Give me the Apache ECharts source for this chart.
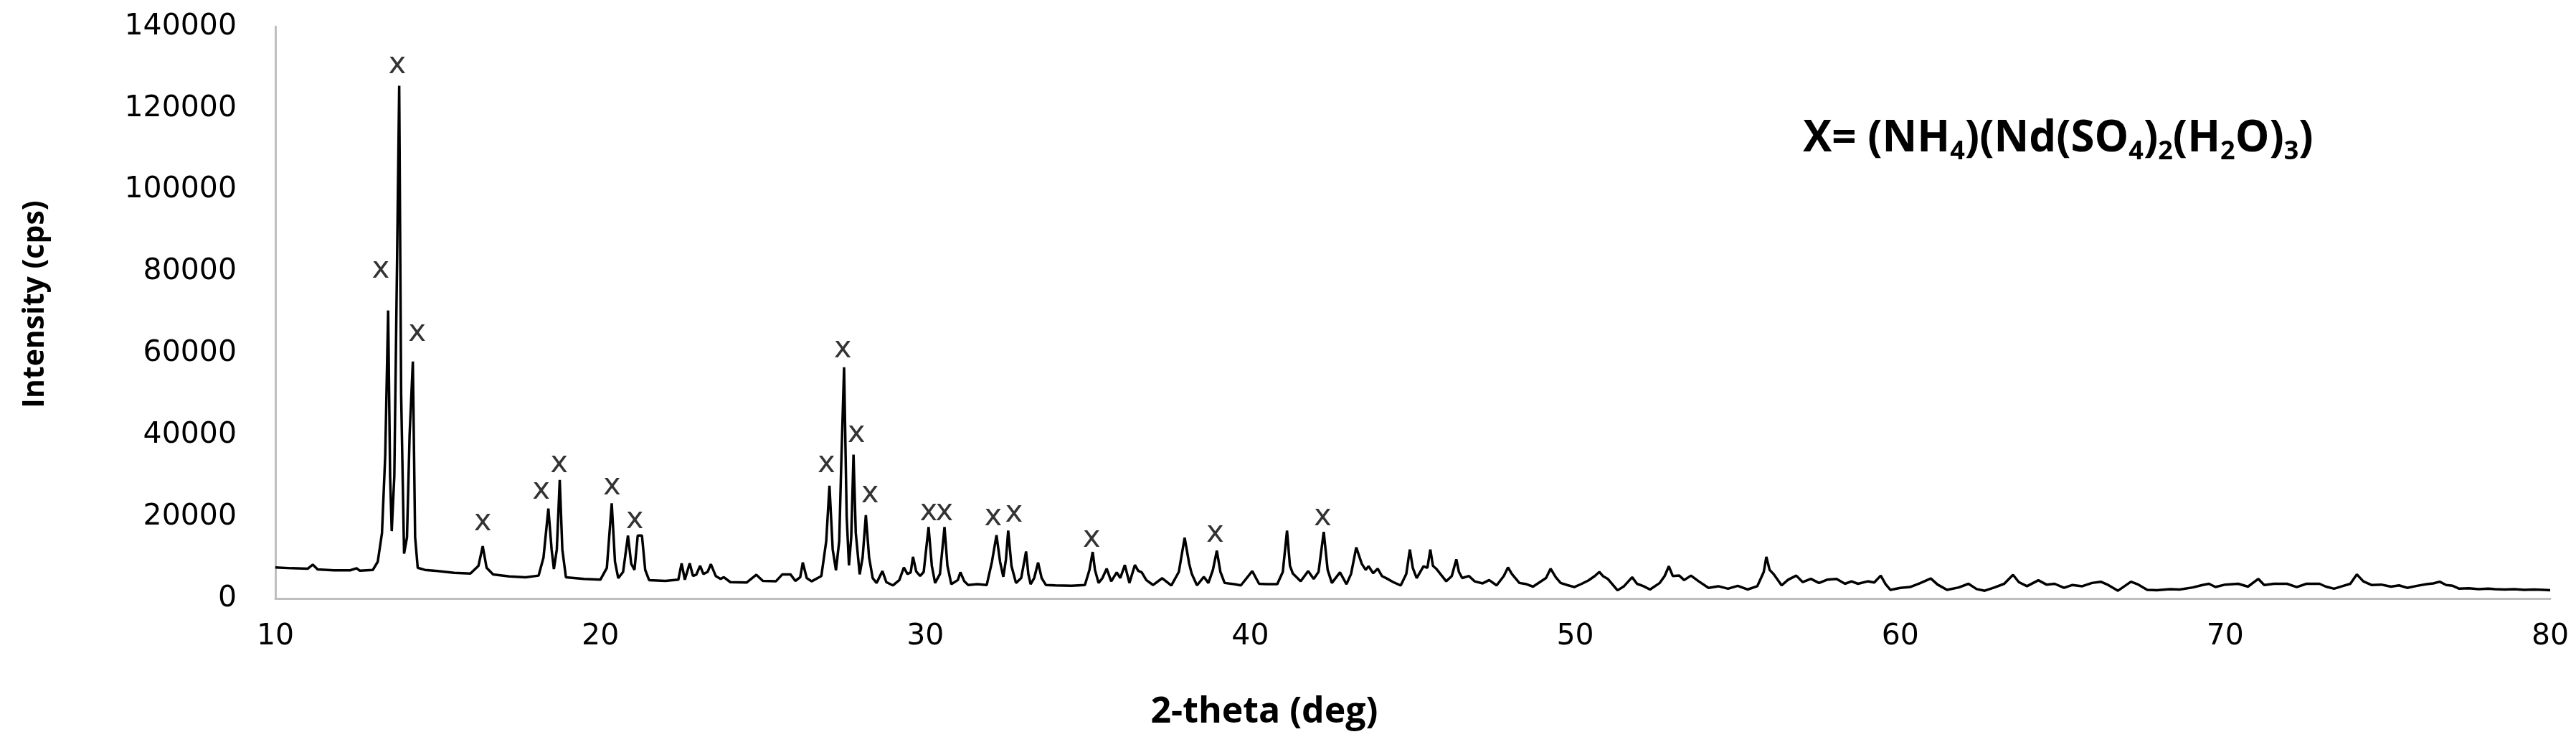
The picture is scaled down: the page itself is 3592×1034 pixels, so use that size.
<!DOCTYPE html>
<html>
<head>
<meta charset="utf-8">
<script src="https://cdn.jsdelivr.net/npm/echarts@6/dist/echarts.min.js"></script>
<style>
html,body{margin:0;padding:0;background:#fff;}
#chart{width:3592px;height:1034px;}
</style>
</head>
<body>
<div id="chart"></div>
<script>
// 2-theta (deg) values of the diffraction trace
const theta = [
10.0,10.5,11.0,11.15,11.3,11.8,12.3,12.5,12.6,13.0,13.15,13.28,13.38,13.47,13.53,13.58,13.66,13.74,13.81,13.87,13.96,14.05,14.13,14.23,14.3,14.38,14.6,15.0,15.5,16.0,16.25,16.38,16.5,16.7,17.2,17.7,18.1,18.25,18.4,18.5,18.57,18.66,18.75,18.83,18.94,19.5,20.0,20.2,20.35,20.45,20.55,20.7,20.85,20.95,21.05,21.15,21.28,21.38,21.5,22.0,22.4,22.5,22.6,22.75,22.85,22.95,23.07,23.17,23.3,23.4,23.55,23.7,23.8,24.0,24.5,24.8,25.0,25.4,25.6,25.85,26.0,26.15,26.23,26.35,26.5,26.8,26.95,27.05,27.15,27.25,27.35,27.42,27.5,27.58,27.65,27.72,27.79,27.86,27.98,28.07,28.17,28.27,28.38,28.5,28.68,28.8,29.0,29.2,29.34,29.45,29.55,29.62,29.72,29.84,29.95,30.1,30.2,30.3,30.45,30.59,30.68,30.8,31.0,31.08,31.2,31.32,31.6,31.89,32.05,32.19,32.3,32.4,32.48,32.55,32.65,32.79,32.95,33.1,33.17,33.24,33.35,33.47,33.58,33.71,34.0,34.5,34.91,35.05,35.15,35.22,35.33,35.45,35.58,35.72,35.89,36.0,36.14,36.28,36.45,36.55,36.66,36.8,37.01,37.29,37.57,37.8,37.98,38.12,38.2,38.36,38.57,38.71,38.85,38.97,39.08,39.21,39.5,39.71,40.06,40.27,40.5,40.83,41.0,41.13,41.22,41.31,41.55,41.78,41.95,42.1,42.26,42.38,42.51,42.76,42.96,43.1,43.26,43.43,43.55,43.64,43.78,43.92,44.05,44.2,44.4,44.63,44.8,44.91,45.0,45.12,45.33,45.45,45.54,45.62,45.72,45.85,46.03,46.2,46.34,46.42,46.52,46.73,46.9,47.15,47.35,47.58,47.8,47.93,48.05,48.28,48.5,48.7,49.1,49.24,49.4,49.55,49.75,49.97,50.2,50.4,50.6,50.74,50.85,51.0,51.3,51.5,51.75,51.9,52.1,52.3,52.6,52.75,52.88,53.0,53.2,53.35,53.56,53.8,54.1,54.4,54.7,55.0,55.3,55.6,55.8,55.88,55.98,56.1,56.35,56.55,56.8,57.0,57.25,57.5,57.75,58.04,58.3,58.5,58.7,59.0,59.2,59.4,59.55,59.7,60.0,60.3,60.6,60.94,61.15,61.44,61.8,62.1,62.35,62.6,62.9,63.2,63.47,63.65,63.9,64.25,64.5,64.75,65.04,65.3,65.6,65.9,66.17,66.4,66.7,67.1,67.3,67.6,67.9,68.3,68.6,69.0,69.3,69.5,69.7,70.0,70.4,70.7,71.02,71.2,71.5,71.9,72.2,72.5,72.9,73.1,73.35,73.6,73.85,74.05,74.25,74.5,74.8,75.1,75.35,75.6,75.9,76.2,76.4,76.6,76.8,77.0,77.2,77.5,77.8,78.1,78.3,78.6,78.9,79.2,79.5,79.8,80.0
];
// Intensity (cps) at each theta
const intensity = [
7600,7400,7300,8300,7100,6900,6900,7400,6800,7000,9000,16000,35000,70500,30000,16500,30000,80000,125500,50000,11000,15000,40000,58000,15000,7500,7000,6700,6300,6100,8000,12800,7500,5900,5400,5200,5600,10000,22000,12000,7200,12000,29000,12000,5200,4800,4600,7500,23300,9000,5000,6500,15400,8500,7000,15400,15400,7000,4500,4300,4600,8600,4600,8600,5500,5800,8000,6000,6500,8400,5500,4800,5200,4000,3900,5800,4300,4200,5900,5900,4300,5200,8800,5000,4200,5500,14000,27600,12000,6900,14000,35000,56600,20000,8100,15000,35200,16000,5900,10000,20400,10000,5000,3800,6700,4000,3200,4500,7600,6000,6400,10200,6600,5500,6500,17500,8000,3800,6000,17500,8000,3500,4500,6400,4200,3300,3500,3300,9000,15500,9000,5300,9500,16600,8000,3800,5000,11500,6000,3500,5000,8800,5000,3300,3200,3100,3300,7000,11400,7000,3800,5000,7300,4200,6400,5000,8200,3800,8200,6800,6400,4500,3300,4960,3200,6500,14900,8500,6000,3200,5300,3800,7000,11700,6500,3800,3500,3200,6700,3600,3500,3500,6500,16600,8000,6100,4200,6700,4800,6500,16300,7000,3800,6400,3500,6000,12500,8500,7000,7900,6200,7300,5500,4900,4000,3200,6000,12000,7500,5000,7900,7500,12000,8000,7300,6000,4200,5500,9600,6500,5000,5500,4200,3700,4500,3200,5500,7600,6000,3800,3500,2900,5000,7300,5200,3800,3300,2800,3600,4400,5500,6500,5500,4800,2000,3000,5200,3600,3000,2200,3800,5500,7900,5500,5600,4500,5600,4200,2600,3000,2400,3100,2200,3000,6500,10200,7000,6000,3200,4600,5600,4000,4800,3800,4600,4800,3600,4200,3600,4200,3900,5600,3500,2100,2600,2800,3700,4900,3400,2100,2700,3600,2300,1900,2700,3600,5800,4000,3000,4450,3400,3600,2600,3300,3000,3800,4100,3300,1900,4100,3500,2100,2000,2300,2200,2700,3300,3600,2800,3400,3600,2900,4800,3300,3600,3600,2800,3600,3600,2900,2400,3000,3600,5900,4200,3300,3400,2900,3200,2600,3100,3500,3700,4100,3300,3100,2400,2500,2300,2400,2300,2200,2300,2100,2200,2100,2000
];
// "x" marker positions (theta, intensity)
const markTheta = [13.24,13.75,14.36,16.38,18.18,18.73,20.36,21.06,26.96,27.46,27.88,28.30,30.10,30.59,32.09,32.73,35.12,38.92,42.23];
const markIntensity = [80400,130500,64900,18600,26400,32800,27300,19200,32800,60900,40200,25400,21000,21000,19800,20700,14600,15800,19800];
// axis ticks
const xTicks = [10,20,30,40,50,60,70,80];
const yTicks = [0,20000,40000,60000,80000,100000,120000,140000];

const lineData = theta.map((t, i) => [t, intensity[i]]);
const markData = markTheta.map((t, i) => [t, markIntensity[i]]);

const chart = echarts.init(document.getElementById('chart'), null, {renderer: 'canvas'});
const axisGray = '#bfbfbf';
const tickFont = '"DejaVu Sans", sans-serif';
chart.setOption({
  animation: false,
  backgroundColor: '#ffffff',
  grid: {left: 384, right: 36, top: 37, bottom: 200, containLabel: false},
  xAxis: {
    type: 'value', min: xTicks[0], max: xTicks[xTicks.length - 1], interval: 10,
    axisLine: {show: true, onZero: false, lineStyle: {color: axisGray, width: 3}},
    axisTick: {show: false},
    splitLine: {show: false},
    axisLabel: {margin: 33, fontSize: 41, color: '#000', fontFamily: tickFont}
  },
  yAxis: {
    type: 'value', min: yTicks[0], max: yTicks[yTicks.length - 1], interval: 20000,
    axisLine: {show: true, lineStyle: {color: axisGray, width: 3}},
    axisTick: {show: false},
    splitLine: {show: false},
    axisLabel: {margin: 54, fontSize: 41, color: '#000', fontFamily: tickFont, formatter: v => String(v)}
  },
  series: [
    {
      type: 'line', data: lineData, symbol: 'none', silent: true,
      lineStyle: {color: '#000', width: 3.5}
    },
    {
      type: 'scatter', data: markData, symbolSize: 1, silent: true,
      itemStyle: {color: 'transparent'},
      label: {show: true, position: 'inside', formatter: 'x', fontSize: 42, color: '#000', fontFamily: tickFont}
    }
  ],
  graphic: [
    {
      type: 'text', x: 49, y: 424, rotation: Math.PI / 2,
      style: {text: 'Intensity (cps)', fontSize: 41, fontWeight: 'bold', fontFamily: '"Open Sans", sans-serif', fill: '#000', textAlign: 'center', textVerticalAlign: 'middle'}
    },
    {
      type: 'text', x: 1763, y: 993,
      style: {text: '2-theta (deg)', fontSize: 50, fontWeight: 'bold', fontFamily: '"Open Sans", sans-serif', fill: '#000', textAlign: 'center', textVerticalAlign: 'middle'}
    },
    {
      type: 'text', x: 2870, y: 194,
      style: {
        text: '{m|X= (NH}{s|4}{m|)(Nd(SO}{s|4}{m|)}{s|2}{m|(H}{s|2}{m|O)}{s|3}{m|)}',
        textAlign: 'center', textVerticalAlign: 'middle', fill: '#000',
        rich: {
          m: {fontSize: 60, fontWeight: 'bold', fontFamily: '"Open Sans", sans-serif', lineHeight: 72, fill: '#000', verticalAlign: 'middle'},
          s: {fontSize: 36, fontWeight: 'bold', fontFamily: '"Open Sans", sans-serif', lineHeight: 36, fill: '#000', verticalAlign: 'bottom'}
        }
      }
    }
  ]
});
</script>
</body>
</html>
